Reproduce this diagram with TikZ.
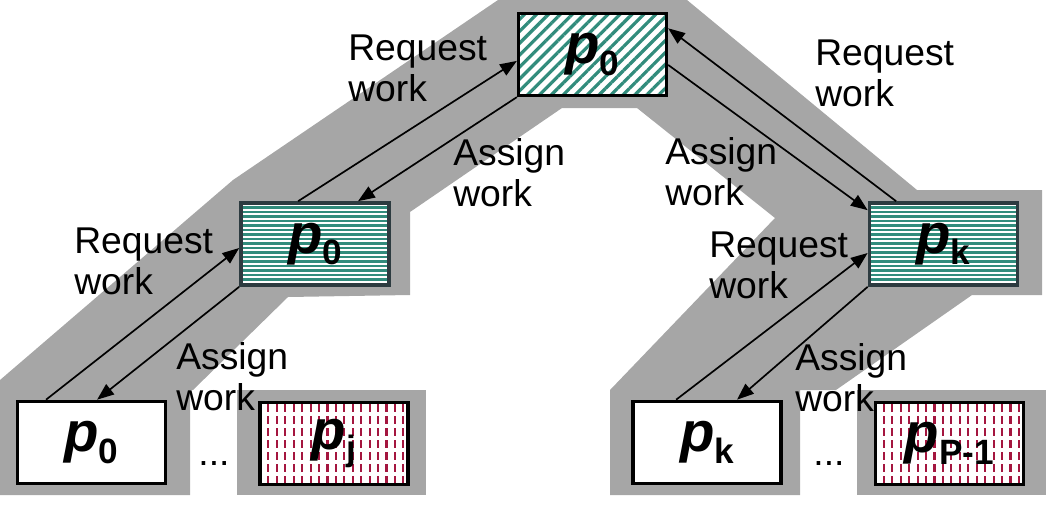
\documentclass[tikz,border=0pt]{standalone}
\usepackage{fontspec}
\setmainfont{Liberation Sans}
\usepackage{tikz}
\usetikzlibrary{arrows.meta,patterns.meta}
\definecolor{bandGray}{HTML}{A6A6A6}
\definecolor{stripeTeal}{HTML}{318C7C}
\definecolor{frameSlate}{HTML}{2D3B40}
\definecolor{dashRed}{HTML}{A4163F}

\newcommand{\proclabel}[1]{{\fontsize{40}{40}\selectfont\bfseries\itshape p}{\fontsize{25}{25}\selectfont\bfseries\raisebox{-0.28cm}{#1}}}

\tikzset{
  procbox/.style={draw,line width=2.6pt,minimum width=3.7cm,minimum height=2.05cm,inner sep=0pt},
  rootbox/.style={procbox,preaction={fill=white},pattern={Lines[angle=45,distance=6pt,line width=2.3pt]},pattern color=stripeTeal},
  midbox/.style={procbox,draw=frameSlate,fill=white,
    path picture={\foreach \k in {1,...,19}
      {\draw[stripeTeal,line width=1.7pt] ([yshift=-\k*3.2pt]path picture bounding box.north west)
        -- ([yshift=-\k*3.2pt]path picture bounding box.north east);}}},
  leafbox/.style={procbox,fill=white},
  % short vertical dashes for the busy processors
  busybox/.style={procbox,fill=white,
    path picture={\foreach \k in {1,...,17}
      {\draw[dashRed,line width=1.5pt,dash pattern=on 5.7pt off 2.8pt,dash phase=-1.4pt]
        ([xshift=\k*6pt]path picture bounding box.north west)
        -- ([xshift=\k*6pt]path picture bounding box.south west);}}},
  msg/.style={align=left,anchor=north west,inner sep=0pt,font=\fontsize{26.5}{29}\selectfont},
}

\begin{document}
\begin{tikzpicture}[x=0.025cm,y=-0.025cm,>={Triangle[length=0.42cm,width=0.32cm]}]
    \useasboundingbox (0,0) rectangle (1046,515);
    % gray backdrop of the tree
    \fill[bandGray] (498,0) -- (687,0) -- (917,190) -- (1042,190) -- (1042,295)
      -- (972,295) -- (836,390) -- (800,390) -- (800,495) -- (610,495) -- (610,390)
      -- (775,218) -- (637,108) -- (562,108) -- (410,212) -- (410,295) -- (288,297)
      -- (193,390) -- (190,390) -- (190,495) -- (0,495) -- (0,380) -- (233,180) -- cycle;
    \foreach \x in {237,857}
      {\fill[bandGray] (\x,390) rectangle ++(189,105);}

    \node[rootbox] (root) at (592.5,54.5) {\proclabel{0}};
    \node[midbox] (midl) at (315,244) {\proclabel{0}};
    \node[midbox] (midr) at (943.5,244) {\proclabel{k}};
    \node[leafbox] (leafa) at (91.5,442.5) {\proclabel{0}};
    \node[busybox] (leafj) at (334,443.5) {\proclabel{j}};
    \node[leafbox] (leafk) at (707,442.5) {\proclabel{k}};
    \node[busybox] (leafp) at (949.5,443.5) {\proclabel{P-1}};

    \draw[->,line width=1.2pt] ([xshift=1.475cm]midl.north west) -- ([yshift=-0.16cm]root.west);
    \draw[->,line width=1.2pt] (root.south west) -- ([xshift=1.075cm]midl.north);
    \draw[->,line width=1.2pt] ([xshift=0.76cm]leafa.north west) -- ([yshift=-0.1cm]midl.west);
    \draw[->,line width=1.2pt] (midl.south west) -- ([xshift=0.14cm]leafa.north);
    \draw[->,line width=1.2pt] ([xshift=0.71cm]midr.north west) -- ([yshift=-0.41cm]root.north east);
    \draw[->,line width=1.2pt] ([yshift=-0.26cm]root.east) -- ([yshift=-0.225cm]midr.north west);
    \draw[->,line width=1.2pt] ([xshift=1.125cm]leafk.north west) -- ([yshift=-0.225cm]midr.west);
    \draw[->,line width=1.2pt] (midr.south west) -- ([xshift=0.75cm]leafk.north);

    \node[msg] (reqa) at (348,35) {Request\\work};
    \node[msg] (asga) at (453,138) {Assign\\work};
    \node[msg] (reqb) at (815,40) {Request\\work};
    \node[msg] (asgb) at (665,137) {Assign\\work};
    \node[msg] (reqc) at (74,228) {Request\\work};
    \node[msg] (asgc) at (176,342) {Assign\\work};
    \node[msg] (reqd) at (709,232) {Request\\work};
    \node[msg] (asgd) at (795,343) {Assign\\work};
    \node[inner sep=0pt,font=\fontsize{26.5}{29}\selectfont] (dotsa) at (214,463) {...};
    \node[inner sep=0pt,font=\fontsize{26.5}{29}\selectfont] (dotsb) at (829,463) {...};
  \end{tikzpicture}
\end{document}
